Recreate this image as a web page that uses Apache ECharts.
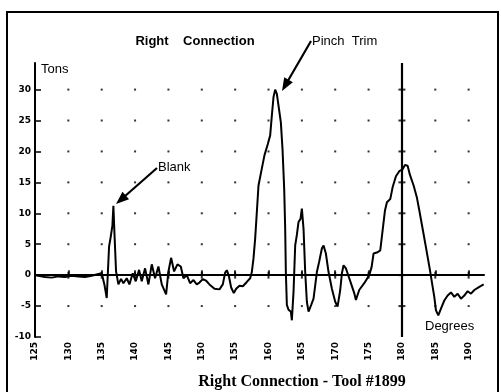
<!DOCTYPE html>
<html>
<head>
<meta charset="utf-8">
<script src="https://cdn.jsdelivr.net/npm/echarts@6/dist/echarts.min.js"></script>
<style>
html,body{margin:0;padding:0;background:#fff}
#chart{width:501px;height:392px}
</style>
</head>
<body>
<div id="chart"></div>
<script>
// press curve
var degrees = [125,125.5,126.5,127.5,128.5,129.5,130.5,131.5,132.5,133.5,134.5,135,135.4,135.75,136.1,136.35,136.6,136.75,136.9,137.15,137.5,137.9,138.25,138.75,139.15,139.65,140.1,140.6,141,141.5,142,142.5,143,143.5,144,144.65,145,145.4,145.85,146.35,146.85,147.25,147.75,148.25,148.75,149.25,149.65,150.15,150.65,151.15,151.9,152.65,153.15,153.5,153.75,154.05,154.4,154.8,155.15,155.65,156.15,156.75,157.25,157.5,157.75,158,158.25,158.5,158.9,159.4,159.9,160.25,160.5,160.75,161,161.25,161.5,161.85,162.1,162.35,162.5,162.6,162.75,163,163.35,163.5,163.75,164,164.25,164.5,164.8,165,165.25,165.5,165.75,166,166.4,166.75,167.25,167.6,168,168.25,168.6,169,169.5,170,170.35,170.75,171,171.25,171.6,171.85,172.35,172.85,173.1,173.6,174.35,175.1,175.45,175.75,176.35,176.75,177.1,177.45,177.75,178.25,178.6,179.1,179.6,180.1,180.45,180.85,181.2,181.75,182.25,182.6,183.1,183.6,184.2,184.5,184.85,185.1,185.45,185.85,186.35,186.85,187.35,187.85,188.35,188.85,189.35,189.85,190.35,190.85,191.6,192.25]
var tons = [0,-0.1,-0.3,-0.4,-0.2,-0.3,-0.1,-0.2,-0.3,-0.1,0.2,0.3,-1.5,-3.7,4.6,6.2,8,11.2,7,0.6,-1.5,-0.6,-1.3,-0.5,-1.5,0.3,-1,0.85,-1,1.1,-1.5,1.75,-0.5,1.4,-1.5,-3.1,0.6,2.8,0.6,1.75,1.4,-0.5,0,-1.3,-0.8,-1.5,-1.2,-0.65,-0.9,-1.5,-2.2,-2.3,-1.5,0.4,0.8,-0.1,-2,-2.9,-2.2,-1.7,-1.8,-1.1,-0.5,0.5,2.7,5.9,10.2,14.5,16.7,19.4,21.2,22.6,25.8,28.8,30,29.3,27.4,24.7,20.4,14,7.5,0.5,-4.8,-5.6,-5.9,-7.3,-2.7,4.8,6.5,8.6,9.1,10.75,7.5,0.5,-4.3,-5.9,-4.8,-3.8,0.5,2.2,4.3,4.8,3.5,0.5,-2.2,-4.3,-5.1,-2.4,0.3,1.6,1.1,0.3,-1.3,-2.9,-4,-2.4,-1.3,0,1.3,3.5,3.7,4,7.2,10.4,11.8,12.3,14.2,16,16.8,17.1,17.8,17.7,16.2,14.5,12.5,10.5,7.5,4.5,0.8,-1.2,-3.5,-5.7,-6.5,-5.4,-4.1,-3.3,-2.8,-3.5,-3,-3.8,-3.3,-2.6,-3,-2.4,-1.9,-1.5]

var xTicks = [125,130,135,140,145,150,155,160,165,170,175,180,185,190]
var yTicks = [-10,-5,0,5,10,15,20,25,30]
var markerDeg = 180

function init(){
	var chart = echarts.init(document.getElementById('chart'))

	var curve = []
	for(var i=0;i<degrees.length;i++){
		curve.push([degrees[i],tons[i]])
	}

	// dotted grid: one dot per tick crossing, skipping the axes themselves
	var dots = []
	for(var a=1;a<xTicks.length;a++){
		for(var b=1;b<yTicks.length;b++){
			dots.push([xTicks[a],yTicks[b]])
		}
	}

	function arrow(x1,y1,x2,y2){
		var dx = x2-x1, dy = y2-y1
		var len = Math.sqrt(dx*dx+dy*dy)
		var ux = dx/len, uy = dy/len
		var bx = x2-ux*13, by = y2-uy*13
		var px = -uy*5, py = ux*5
		return [
			{type:'line',shape:{x1:x1,y1:y1,x2:bx+ux*2,y2:by+uy*2},style:{stroke:'#000',lineWidth:2.2},silent:true},
			{type:'polygon',shape:{points:[[x2,y2],[bx+px,by+py],[bx-px,by-py]]},style:{fill:'#000'},silent:true}
		]
	}

	var graphics = [
		{type:'polyline',shape:{points:[[7,392],[7,12],[498,12],[498,392]]},style:{stroke:'#000',lineWidth:2,fill:null},silent:true},
		{type:'text',x:195,y:41,style:{text:'Right    Connection',font:'bold 13px "Liberation Sans"',fill:'#000',align:'center',verticalAlign:'middle'}},
		{type:'text',x:312,y:41,style:{text:'Pinch  Trim',font:'13px "Liberation Sans"',fill:'#000',align:'left',verticalAlign:'middle'}},
		{type:'text',x:41,y:69,style:{text:'Tons',font:'13px "Liberation Sans Narrow", "Liberation Sans"',fill:'#000',align:'left',verticalAlign:'middle'}},
		{type:'text',x:158,y:167,style:{text:'Blank',font:'13px "Liberation Sans"',fill:'#000',align:'left',verticalAlign:'middle'}},
		{type:'text',x:425,y:326,style:{text:'Degrees',font:'13px "Liberation Sans Narrow", "Liberation Sans"',fill:'#000',align:'left',verticalAlign:'middle'}},
		{type:'text',x:302,y:382,style:{text:'Right Connection - Tool #1899',font:'bold 16px "Liberation Serif"',fill:'#000',align:'center',verticalAlign:'middle'}}
	]
	graphics = graphics.concat(arrow(157,168,116,204))
	graphics = graphics.concat(arrow(311,41,282,91))

	var option = {
		animation:false,
		backgroundColor:'#fff',
		grid:{left:35,right:17,top:63,bottom:55},
		xAxis:{
			type:'value',
			min:125,
			max:192.3,
			axisLine:{lineStyle:{color:'#000',width:2}},
			axisTick:{inside:true,length:5,lineStyle:{color:'#000',width:1.5},customValues:xTicks},
			axisLabel:{
				customValues:xTicks,
				rotate:90,
				margin:5,
				color:'#000',
				fontSize:9,
				fontWeight:'bold',
				fontFamily:'DejaVu Sans'
			},
			splitLine:{show:false}
		},
		yAxis:{
			type:'value',
			min:-10,
			max:34.3,
			axisLine:{show:true,lineStyle:{color:'#000',width:2}},
			axisTick:{show:true,inside:true,length:6,lineStyle:{color:'#000',width:1.5},customValues:yTicks},
			axisLabel:{
				customValues:yTicks,
				margin:4,
				color:'#000',
				fontSize:9,
				fontWeight:'bold',
				fontFamily:'DejaVu Sans'
			},
			splitLine:{show:false}
		},
		graphic:graphics,
		series:[
			{
				type:'scatter',
				data:dots,
				symbol:'rect',
				symbolSize:function(v){
					if(v[0]===markerDeg) return [7,2]
					if(v[1]===0) return [2,7]
					return [2,2]
				},
				itemStyle:{color:'#000'},
				silent:true,
				z:1
			},
			{
				type:'line',
				data:curve,
				showSymbol:false,
				smooth:false,
				lineStyle:{color:'#000',width:2},
				silent:true,
				z:3,
				markLine:{
					silent:true,
					symbol:'none',
					label:{show:false},
					lineStyle:{color:'#000',width:2.2,type:'solid'},
					data:[
						{yAxis:0},
						{xAxis:markerDeg}
					]
				}
			}
		]
	}

	chart.setOption(option)
}

init()
</script>
</body>
</html>
